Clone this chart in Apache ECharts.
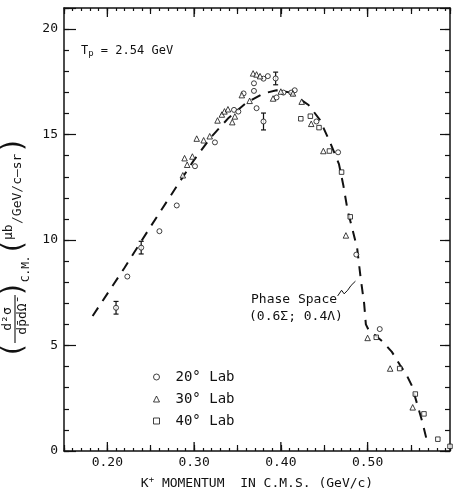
<!DOCTYPE html>
<html>
<head>
<meta charset="utf-8">
<script src="https://cdn.jsdelivr.net/npm/echarts@6/dist/echarts.min.js"></script>
<style>
  html, body { margin: 0; background: #fff; }
  #main { width: 453px; height: 495px; }
</style>
</head>
<body>
<div id="main"></div>
<script>
// axis ranges
const xMin = 0.15, xMax = 0.595;
const yMin = 0, yMax = 21;
const xMajorTicks = [0.20, 0.30, 0.40, 0.50];

// 20 deg lab (circles)
const lab20 = [
  [0.210, 6.79], [0.223, 8.27], [0.239, 9.64], [0.260, 10.42], [0.280, 11.64],
  [0.301, 13.5], [0.324, 14.63], [0.346, 16.17], [0.351, 16.09], [0.357, 16.95],
  [0.369, 17.07], [0.369, 17.43], [0.372, 16.25], [0.380, 17.65], [0.385, 17.77],
  [0.380, 15.62], [0.394, 17.66], [0.395, 16.76], [0.403, 16.99], [0.412, 16.99],
  [0.416, 17.1], [0.441, 15.62], [0.466, 14.16], [0.487, 9.31], [0.514, 5.78]
];
// 30 deg lab (triangles)
const lab30 = [
  [0.287, 13.07], [0.289, 13.88], [0.292, 13.57], [0.298, 13.96], [0.303, 14.81],
  [0.311, 14.73], [0.318, 14.92], [0.327, 15.67], [0.332, 15.95], [0.335, 16.1],
  [0.339, 16.2], [0.344, 15.59], [0.347, 15.86], [0.355, 16.87], [0.364, 16.6],
  [0.368, 17.9], [0.372, 17.85], [0.376, 17.77], [0.391, 16.71], [0.400, 17.04],
  [0.414, 16.95], [0.424, 16.56], [0.435, 15.51], [0.449, 14.22], [0.475, 10.22],
  [0.500, 5.36], [0.526, 3.91], [0.552, 2.07]
];
// 40 deg lab (squares)
const lab40 = [
  [0.423, 15.75], [0.434, 15.87], [0.444, 15.33], [0.456, 14.22], [0.470, 13.22],
  [0.480, 11.1], [0.510, 5.39], [0.537, 3.91], [0.555, 2.70], [0.565, 1.76],
  [0.581, 0.56], [0.595, 0.22]
];
// error bars: x, y, half height
const errBars = [
  [0.210, 6.79, 0.3], [0.239, 9.64, 0.3], [0.380, 15.62, 0.4], [0.394, 17.66, 0.3]
];
// phase space curve (0.6 sigma : 0.4 lambda)
const phaseSpace = [
  [0.183, 6.4], [0.22, 8.7], [0.25, 10.65], [0.28, 12.55], [0.30, 13.8], [0.32, 14.9],
  [0.34, 15.8], [0.36, 16.5], [0.38, 16.95], [0.395, 17.1], [0.41, 17.0], [0.425, 16.6],
  [0.432, 16.4], [0.445, 15.7], [0.457, 14.6], [0.467, 13.6], [0.472, 12.6], [0.477, 11.4],
  [0.482, 10.6], [0.488, 9.6], [0.492, 8.2], [0.496, 7.0], [0.498, 6.0], [0.501, 5.75],
  [0.517, 5.2], [0.528, 4.7], [0.537, 4.1], [0.545, 3.6], [0.551, 3.1], [0.558, 2.1],
  [0.563, 1.4], [0.568, 0.55]
];
// squiggly pointer to the curve
const pointer = [
  [0.4655, 7.35], [0.470, 7.62], [0.473, 7.45], [0.477, 7.62], [0.481, 7.85], [0.486, 8.05]
];

const FONT = 'DejaVu Sans Mono';
const INK = '#111';

const hollow = { color: '#fff', borderColor: INK, borderWidth: 1 };

function xAxisDef(pos, interval, tickLen, labels, line) {
  return {
    type: 'value', position: pos, min: xMin, max: xMax, interval: interval,
    axisLine: { show: line, onZero: false, lineStyle: { color: INK, width: 1.5 } },
    axisTick: { show: true, inside: true, length: tickLen, lineStyle: { color: INK, width: 1.2 } },
    axisLabel: {
      show: labels, margin: 5, color: INK, fontFamily: FONT, fontSize: 13,
      formatter: v => Math.abs(v * 10 - Math.round(v * 10)) < 1e-6 ? v.toFixed(2) : ''
    },
    splitLine: { show: false }
  };
}
function yAxisDef(pos, interval, tickLen, labels, line) {
  return {
    type: 'value', position: pos, min: yMin, max: yMax, interval: interval,
    axisLine: { show: line, onZero: false, lineStyle: { color: INK, width: 1.5 } },
    axisTick: { show: true, inside: true, length: tickLen, lineStyle: { color: INK, width: 1.2 } },
    axisLabel: {
      show: labels, margin: 6, color: INK, fontFamily: FONT, fontSize: 13,
      formatter: v => v % 5 === 0 ? String(v) : ''
    },
    splitLine: { show: false }
  };
}

const xA = xAxisDef('bottom', 0.01, 3, true, true);
xA.name = 'K{sup|+} MOMENTUM  IN C.M.S. (GeV/c)';
xA.nameLocation = 'middle';
xA.nameGap = 24;
xA.nameTextStyle = {
  color: INK, fontFamily: FONT, fontSize: 13,
  rich: { sup: { fontFamily: FONT, fontSize: 9, verticalAlign: 'top', padding: [0, 0, 8, 0], color: INK } }
};

const plot = echarts.init(document.querySelector('#main'));

const option = {
  animation: false,
  backgroundColor: '#fff',
  grid: { left: 64, right: 1, top: 8, bottom: 38 },
  xAxis: [
    xA,
    xAxisDef('bottom', 0.05, 6, false, false),
    xAxisDef('top', 0.01, 3, false, true),
    xAxisDef('top', 0.05, 6, false, false)
  ],
  yAxis: [
    yAxisDef('left', 1, 5, false, true),
    yAxisDef('left', 5, 12, true, false),
    yAxisDef('right', 1, 5, false, true),
    yAxisDef('right', 5, 10, false, false)
  ],
  legend: {
    orient: 'vertical', left: 148, top: 365, itemWidth: 6, itemHeight: 6, itemGap: 8,
    data: ['20° Lab', '30° Lab', '40° Lab'],
    itemStyle: { borderWidth: 1 },
    textStyle: { color: INK, fontFamily: FONT, fontSize: 14, padding: [0, 0, 0, 11] }
  },
  graphic: [
    {
      type: 'text', left: 81, top: 45,
      style: {
        text: '{t|T}{s|p} = 2.54 GeV',
        rich: {
          t: { fontFamily: FONT, fontSize: 12, fill: INK },
          s: { fontFamily: FONT, fontSize: 9, fill: INK, verticalAlign: 'bottom', padding: [6, 0, 0, 0] }
        },
        font: '12px ' + FONT, fill: INK
      }
    },
    {
      type: 'text', left: 251, top: 293,
      style: { text: 'Phase Space', font: '13px ' + FONT, fill: INK }
    },
    {
      type: 'text', left: 249, top: 310,
      style: { text: '(0.6Σ; 0.4Λ)', font: '13px ' + FONT, fill: INK }
    },
    // rotated y axis title
    {
      type: 'group', x: 15, y: 355, rotation: Math.PI / 2,
      children: [
        { type: 'text', x: 5, y: 0, style: { text: '(', font: '28px ' + FONT, fill: INK, textAlign: 'center', textVerticalAlign: 'middle' } },
        { type: 'text', x: 36, y: -7, style: { text: 'd²σ', font: '13px ' + FONT, fill: INK, textAlign: 'center', textVerticalAlign: 'middle' } },
        { type: 'line', shape: { x1: 12, y1: 0, x2: 60, y2: 0 }, style: { stroke: INK, lineWidth: 1.1 } },
        { type: 'text', x: 36, y: 8, style: { text: 'dp̄dΩ̄', font: '13px ' + FONT, fill: INK, textAlign: 'center', textVerticalAlign: 'middle' } },
        { type: 'text', x: 66, y: 0, style: { text: ')', font: '28px ' + FONT, fill: INK, textAlign: 'center', textVerticalAlign: 'middle' } },
        { type: 'text', x: 73, y: 11, style: { text: 'C.M.', font: '11px ' + FONT, fill: INK, textAlign: 'left', textVerticalAlign: 'middle' } },
        { type: 'text', x: 108, y: 0, style: { text: '(', font: '28px ' + FONT, fill: INK, textAlign: 'center', textVerticalAlign: 'middle' } },
        { type: 'text', x: 115, y: -6, style: { text: 'μb', font: '13px ' + FONT, fill: INK, textAlign: 'left', textVerticalAlign: 'middle' } },
        { type: 'text', x: 131, y: 3, style: { text: '/GeV/c–sr', font: '13px ' + FONT, fill: INK, textAlign: 'left', textVerticalAlign: 'middle' } },
        { type: 'text', x: 210, y: 0, style: { text: ')', font: '28px ' + FONT, fill: INK, textAlign: 'center', textVerticalAlign: 'middle' } }
      ]
    }
  ],
  series: [
    {
      name: 'Phase Space', type: 'line', data: phaseSpace, showSymbol: false, symbol: 'none',
      lineStyle: { color: INK, width: 2, type: [10, 8] }, z: 2
    },
    {
      name: 'pointer', type: 'lines', coordinateSystem: 'cartesian2d', polyline: true,
      symbol: ['none', 'arrow'], symbolSize: 5,
      lineStyle: { color: INK, width: 1, opacity: 1 },
      data: [{ coords: pointer }], z: 3
    },
    {
      name: 'errors', type: 'custom', data: errBars, z: 3, silent: true,
      renderItem: (params, api) => {
        const x = api.value(0), y = api.value(1), e = api.value(2);
        const lo = api.coord([x, y - e]), hi = api.coord([x, y + e]);
        const st = { stroke: INK, lineWidth: 1.2 };
        return {
          type: 'group', children: [
            { type: 'line', shape: { x1: lo[0], y1: lo[1], x2: hi[0], y2: hi[1] }, style: st },
            { type: 'line', shape: { x1: lo[0] - 2.5, y1: lo[1], x2: lo[0] + 2.5, y2: lo[1] }, style: st },
            { type: 'line', shape: { x1: hi[0] - 2.5, y1: hi[1], x2: hi[0] + 2.5, y2: hi[1] }, style: st }
          ]
        };
      }
    },
    {
      name: 'majorTicks', type: 'custom', data: xMajorTicks.map(v => [v, 0]), z: 5, silent: true, clip: false,
      renderItem: (params, api) => {
        const v = api.value(0);
        const b = api.coord([v, yMin]), t = api.coord([v, yMax]);
        const st = { stroke: INK, lineWidth: 1.3 };
        return {
          type: 'group', children: [
            { type: 'line', shape: { x1: b[0], y1: b[1], x2: b[0], y2: b[1] - 9 }, style: st },
            { type: 'line', shape: { x1: t[0], y1: t[1], x2: t[0], y2: t[1] + 9 }, style: st }
          ]
        };
      }
    },
    {
      name: '20° Lab', type: 'scatter', data: lab20, symbol: 'circle', symbolSize: 5,
      itemStyle: hollow, z: 4
    },
    {
      name: '30° Lab', type: 'scatter', data: lab30, symbol: 'triangle', symbolSize: 5.5,
      itemStyle: hollow, z: 4
    },
    {
      name: '40° Lab', type: 'scatter', data: lab40, symbol: 'rect', symbolSize: 4.5,
      itemStyle: hollow, z: 4
    }
  ]
};

plot.setOption(option);
</script>
</body>
</html>
